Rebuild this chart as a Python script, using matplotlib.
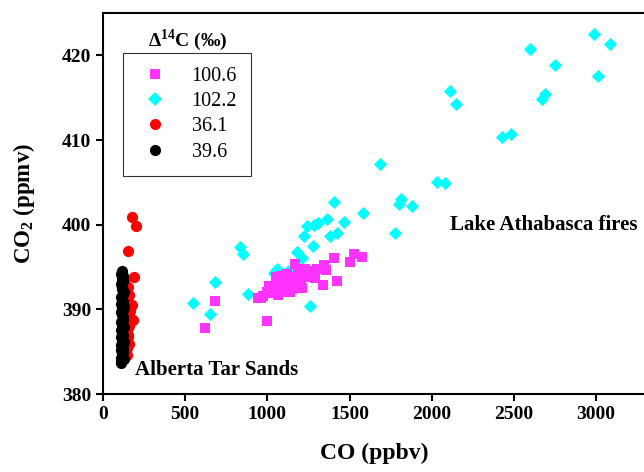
import numpy as np
import matplotlib.pyplot as plt
from matplotlib.lines import Line2D

plt.rcParams['font.family'] = ['Liberation Serif', 'DejaVu Serif']
plt.rcParams['mathtext.fontset'] = 'custom'
plt.rcParams['mathtext.rm'] = 'Liberation Serif'
plt.rcParams['mathtext.bf'] = 'Liberation Serif:bold'

# Lake Athabasca fires, D14C = 100.6 (magenta squares)
mg_co = [621, 682, 997, 946, 975, 1000, 1010, 1030, 1045, 1060, 1075, 1090, 1100,
         1110, 1125, 1140, 1150, 1160, 1170, 1180, 1190, 1200, 1210, 1220, 1170,
         1230, 1301, 1342, 1358, 1403, 1291, 1337, 1423, 1500, 1529, 1575, 1050,
         1080, 1120, 1250, 1270, 960, 1015, 1065, 1135, 1185]
mg_co2 = [387.8, 391.0, 388.6, 391.4, 391.6, 392.1, 392.8, 391.9, 392.5, 393.0, 392.2,
          392.7, 393.4, 392.0, 392.6, 393.1, 392.4, 393.8, 392.8, 393.5, 394.5, 393.0,
          392.5, 394.0, 395.4, 394.8, 394.8, 395.2, 394.6, 396.1, 393.7, 392.9, 393.3,
          395.6, 396.6, 396.2, 393.8, 394.0, 394.2, 393.8, 394.5, 391.3, 392.4, 391.7,
          392.1, 394.8]

# Lake Athabasca fires, D14C = 102.2 (cyan diamonds)
cy_co = [2986, 3088, 3010, 2600, 2753, 2688, 2674, 2113, 2150, 2483, 2428, 1687,
         2032, 2083, 1815, 1799, 1880, 1585, 1778, 1403, 1362, 1464, 1240, 1281,
         1311, 1226, 1382, 1423, 1277, 834, 851, 1180, 1210, 1058, 1041, 1123,
         682, 881, 652, 1257, 546]
cy_co2 = [422.5, 421.3, 417.6, 420.7, 418.8, 415.4, 414.8, 415.8, 414.3, 410.7, 410.3,
          407.2, 405.0, 404.9, 403.0, 402.4, 402.2, 401.4, 399.0, 402.7, 400.7, 400.3,
          399.8, 400.0, 400.2, 398.7, 398.7, 399.0, 397.5, 397.4, 396.6, 396.8, 396.1,
          394.8, 394.3, 394.5, 393.2, 391.8, 389.5, 390.4, 390.8]

# Alberta Tar Sands, D14C = 36.1 (red circles)
rd_co = [175, 199, 154, 191, 185, 175, 150, 140, 160, 145, 130, 155, 165, 140, 150,
         135, 160, 145, 125, 150, 140, 130, 155, 145, 120, 135, 150, 140, 130, 125,
         145, 135]
rd_co2 = [400.9, 399.9, 396.9, 393.8, 388.7, 390.5, 392.6, 392.2, 391.7, 391.2, 390.8,
          390.2, 389.8, 389.3, 388.9, 388.4, 388.0, 387.6, 387.2, 387.0, 386.6, 386.2,
          385.9, 385.5, 385.8, 385.2, 386.8, 389.6, 391.5, 384.8, 384.6, 393.6]

# Alberta Tar Sands, D14C = 39.6 (black circles)
bk_co = [110, 112, 108, 115, 118, 112, 120, 110, 125, 115, 108, 122, 118, 112, 128,
         116, 110, 120, 124, 114, 108, 118, 126, 112, 120, 116, 110, 122, 128, 114,
         118, 110, 124, 116, 120, 112, 118, 126, 122, 115, 124]
bk_co2 = [383.7, 384.0, 384.3, 384.6, 384.9, 385.2, 385.5, 385.8, 386.1, 386.4, 386.7,
          387.0, 387.3, 387.6, 387.9, 388.2, 388.5, 388.8, 389.1, 389.4, 389.7, 390.0,
          390.3, 390.6, 390.9, 391.2, 391.5, 391.8, 392.1, 392.4, 392.7, 393.0, 393.3,
          393.6, 393.9, 394.2, 394.5, 384.2, 385.0, 386.0, 389.9]

labels = ['100.6', '102.2', '36.1', '39.6']
colors = ['#ff33ff', '#00ffff', '#ff0000', '#000000']

fig = plt.figure(figsize=(6.44, 4.72), dpi=100)
ax = fig.add_axes([0.16, 0.165, 0.842, 0.8075])

ax.scatter(cy_co, cy_co2, marker='D', s=45, c=colors[1], linewidths=0, zorder=2)
ax.scatter(mg_co, mg_co2, marker='s', s=50, c=colors[0], linewidths=0, zorder=3)
ax.scatter(rd_co, rd_co2, marker='o', s=65, c=colors[2], linewidths=0, zorder=4)
ax.scatter(bk_co, bk_co2, marker='o', s=65, c=colors[3], linewidths=0, zorder=5)

ax.set_xlim(0, 3300)
ax.set_ylim(380, 425)
ax.set_xticks([0, 500, 1000, 1500, 2000, 2500, 3000])
ax.set_yticks([380, 390, 400, 410, 420])
ax.tick_params(direction='out', length=5, width=1.5, labelsize=14, top=False, right=False)
for lab in ax.get_xticklabels() + ax.get_yticklabels():
    lab.set_fontweight('bold')
for sp in ax.spines.values():
    sp.set_linewidth(1.5)

ax.set_xlabel('CO (ppbv)', fontsize=17, fontweight='bold', labelpad=14)
ax.set_ylabel(r'CO$_\mathbf{2}$ (ppmv)', fontsize=16.5, fontweight='bold', labelpad=18)

ax.text(2113, 400, 'Lake Athabasca fires', fontsize=15, fontweight='bold', va='center')
ax.text(195, 382.8, 'Alberta Tar Sands', fontsize=15, fontweight='bold', va='center')

# legend
markers = ['s', 'D', 'o', 'o']
sizes = [7, 7, 8, 8]
handles = [Line2D([], [], linestyle='none', marker=m, markersize=ms, color=c,
                  markeredgewidth=0) for m, ms, c in zip(markers, sizes, colors)]
leg = ax.legend(handles, labels, loc='upper left', bbox_to_anchor=(0.037, 0.895),
                frameon=True, fancybox=False, edgecolor='black', fontsize=14.5,
                handletextpad=0.9, labelspacing=0.3, borderpad=0.7, handlelength=1.8,
                borderaxespad=0)
leg.get_frame().set_linewidth(0.8)
fig.text(0.292, 0.915, r'$\mathbf{\Delta}^{\mathbf{14}}$C (‰)', fontsize=14,
         fontweight='bold', ha='center', va='center')

fig.savefig('out.png', dpi=100)
